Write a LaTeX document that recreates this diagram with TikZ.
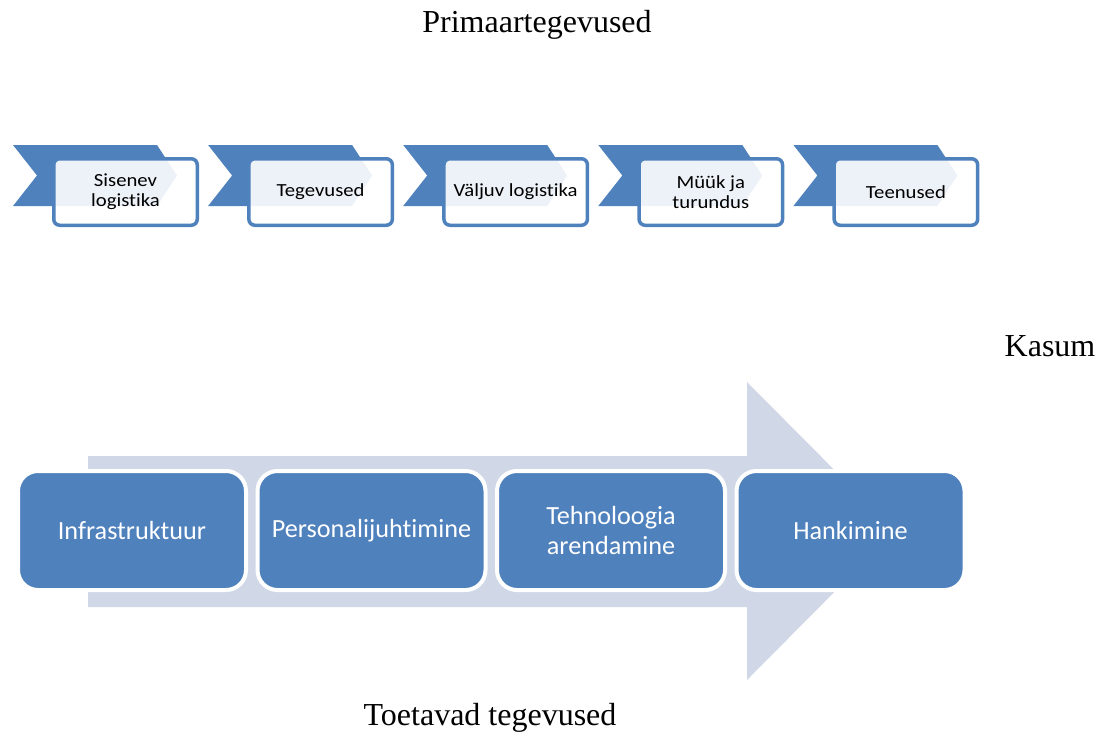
\documentclass[tikz,border=0pt]{standalone}
\usepackage{fontspec}
\setmainfont{Liberation Serif}
\newfontfamily\calibrifont[Ligatures=NoCommon]{Carlito}
\newfontfamily\calibriwide[Ligatures=NoCommon,FakeStretch=1.12]{Carlito}
\definecolor{accblue}{HTML}{4F81BD}
\definecolor{lightband}{HTML}{D0D8E8}
\begin{document}
\begin{tikzpicture}[x=1pt,y=-1pt,
  chev/.style={fill=accblue,draw=none},
  topbox/.style={draw=accblue,line width=3.5pt,fill=white,fill opacity=0.9,text opacity=1,
    rounded corners=6pt,minimum width=143.5pt,minimum height=66.5pt,inner sep=0pt,
    align=center,font=\calibriwide\fontsize{18.5}{20}\selectfont},
  botbox/.style={draw=white,line width=4pt,fill=accblue,rounded corners=20pt,
    minimum width=228pt,minimum height=119pt,inner sep=0pt,text=white,
    align=center,font=\calibrifont\fontsize{26.2}{30}\selectfont},
  caption/.style={font=\fontsize{32}{36}\selectfont,inner sep=0pt}]
\useasboundingbox (0,0) rectangle (1107,736);
\node[caption] (title) at (537,25) {Primaartegevused};
\node[caption] (kasum) at (1050,346) {Kasum};
\node[caption] (toet) at (490,718) {Toetavad tegevused};
% primary activities
\foreach \i/\name/\txt in {0/p1/{Sisenev\\logistika},1/p2/{Tegevused},2/p3/{Väljuv logistika},3/p4/{Müük ja\\turundus},4/p5/{Teenused}}{
  \begin{scope}[xshift=195.1*\i]
    \fill[chev] (13,145) -- (157,145) -- (177,175.5) -- (157,206) -- (13,206) -- (37,175.5) -- cycle;
    \node[topbox] (\name) at (125.5,192) {\txt};
  \end{scope}
}
% support activities
\fill[lightband] (88,456) -- (747,456) -- (747,382) -- (895,531) -- (747,680) -- (747,607) -- (88,607) -- cycle;
\node[botbox] (s1) at (132,530.5) {Infrastruktuur};
\node[botbox] (s2) at (371.5,530.5) {Personalijuhtimine};
\node[botbox] (s3) at (611,530.5) {Tehnoloogia\\arendamine};
\node[botbox] (s4) at (850.5,530.5) {Hankimine};
\end{tikzpicture}
\end{document}
